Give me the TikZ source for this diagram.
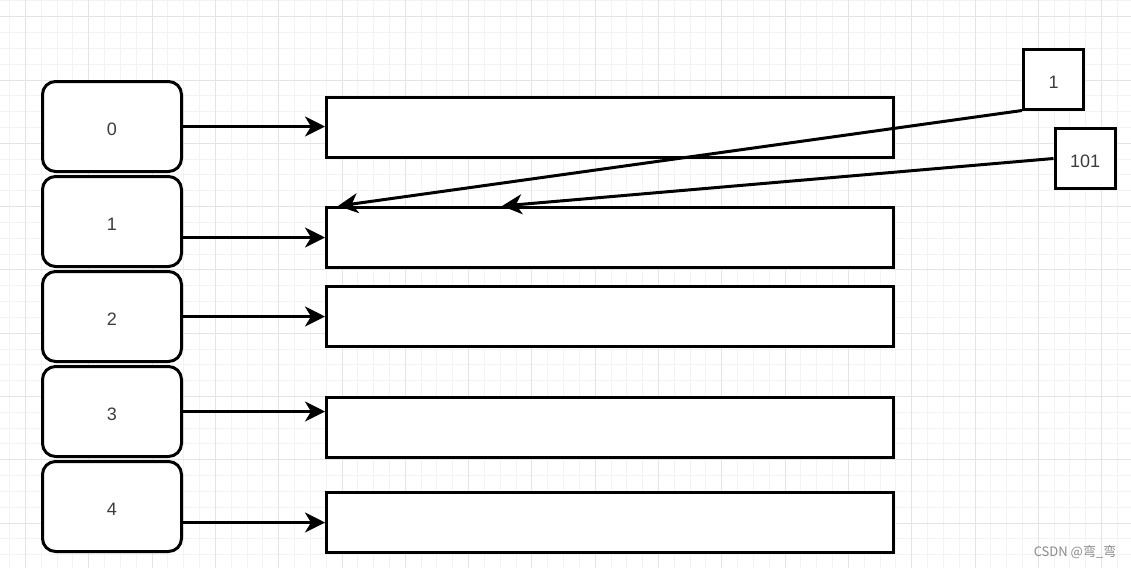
\documentclass[tikz,border=0pt]{standalone}
\usepackage{fontspec}
\setmainfont{Liberation Sans}
\newfontfamily\cjkfont{Noto Sans CJK SC}
\usetikzlibrary{positioning, arrows.meta}
\definecolor{minorgrid}{HTML}{F3F3F3}
\definecolor{majorgrid}{HTML}{E4E4E4}
\definecolor{labeltext}{HTML}{3C3C3C}
\definecolor{marktext}{HTML}{8A8A8A}

\begin{document}
\begin{tikzpicture}[x=1pt, y=-1pt,
    slot/.style={draw, fill=white, line width=3pt, rounded corners=13pt, minimum width=139pt, minimum height=90pt, inner sep=0pt, text=labeltext, text height=18pt, text depth=0pt, font=\fontsize{18}{21}\selectfont},
    bucket/.style={draw, fill=white, line width=3pt, minimum width=567pt, minimum height=60pt, inner sep=0pt},
    keybox/.style={draw, fill=white, line width=3pt, minimum width=60pt, minimum height=60pt, inner sep=0pt, text=labeltext, text height=18pt, text depth=0pt, font=\fontsize{18}{21}\selectfont},
    link/.style={line width=3pt, -{Stealth[length=20pt, width=20pt, inset=6pt]}}]
    \useasboundingbox (0,0) rectangle (1131,568);
    \fill[white] (0,0) rectangle (1131,568);
    % grid
    \foreach \k in {0,...,70}
        \draw[minorgrid, line width=1pt] ({9.675+15.825*\k},0) -- ++(0,568);
    \foreach \k in {0,...,35}
        \draw[minorgrid, line width=1pt] (0,{0.875+15.825*\k}) -- ++(1131,0);
    \foreach \k in {0,...,17}
        \draw[majorgrid, line width=1pt] ({25.5+63.3*\k},0) -- ++(0,568);
    \foreach \k in {0,...,8}
        \draw[majorgrid, line width=1pt] (0,{16.7+63.3*\k}) -- ++(1131,0);

    \node[slot] (s0) at (112,126.5) {0};
    \node[slot, below=2pt of s0] (s1) {1};
    \node[slot, below=2pt of s1] (s2) {2};
    \node[slot, below=2pt of s2] (s3) {3};
    \node[slot, below=2pt of s3] (s4) {4};

    \node[bucket] (c0) at (610,127.5) {};
    \node[bucket] (c1) at (610,237.5) {};
    \node[bucket] (c2) at (610,316.5) {};
    \node[bucket] (c3) at (610,427.5) {};
    \node[bucket] (c4) at (610,522.5) {};

    \draw[link] (s0.east) -- (c0.west |- s0.east);
    \draw[link] (s1.east |- c1.west) -- (c1.west);
    \draw[link] (s2.east) -- (c2.west |- s2.east);
    \draw[link] (s3.east) -- (c3.west |- s3.east);
    \draw[link] (s4.east |- c4.west) -- (c4.west);

    \node[keybox] (k1) at (1053.5,79) {1};
    \node[keybox] (k101) at (1085,158.5) {101};
    \coordinate[right=13pt of c1.north west] (hit1);
    \coordinate[right=177pt of c1.north west] (hit101);
    \draw[link] (k1.south west) -- (hit1);
    \draw[link] (k101.west) -- (hit101);

    \node[text=marktext, font=\cjkfont\fontsize{13}{15}\selectfont] (mark) at (1075,552) {CSDN @弯\_弯};
\end{tikzpicture}
\end{document}
